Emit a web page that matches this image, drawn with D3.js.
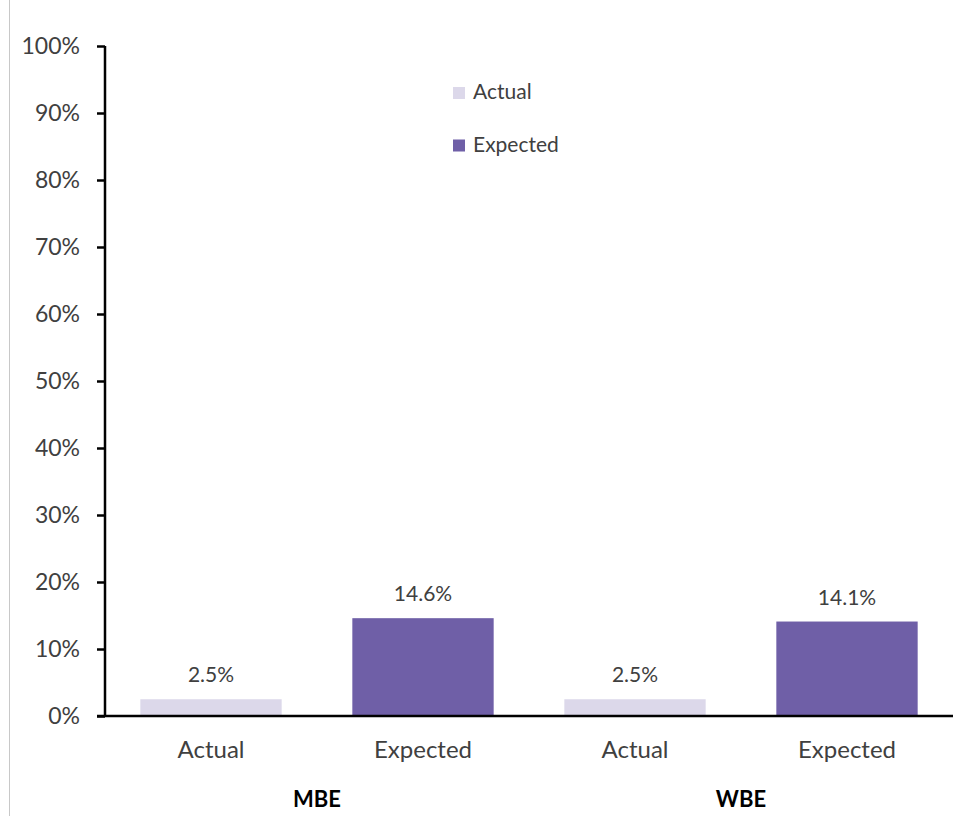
<!DOCTYPE html>
<html>
<head>
<meta charset="utf-8">
<script src="https://cdn.jsdelivr.net/npm/d3@7"></script>
<style>
  html, body { margin: 0; padding: 0; background: #fff; }
  svg { display: block; font-family: Lato, "Open Sans", sans-serif; }
</style>
</head>
<body>
<svg id="chart" width="955" height="816"></svg>
<script>
// ---- data ----
const groups = ["MBE", "WBE"];
const barLabels = ["Actual", "Expected", "Actual", "Expected"];
const barGroups = ["MBE", "MBE", "WBE", "WBE"];
const barValues = [2.5, 14.6, 2.5, 14.1];
const seriesNames = ["Actual", "Expected"];
const seriesColors = ["#DCD8EA", "#6F5FA7"];
const yTicks = [0, 10, 20, 30, 40, 50, 60, 70, 80, 90, 100];

const bars = barLabels.map((l, i) => ({ key: barGroups[i] + "-" + l, label: l, group: barGroups[i], value: barValues[i] }));

const svg = d3.select("#chart");
const plotL = 105, plotR = 953, plotT = 46, plotB = 716;

// outer border line on left
svg.append("line").attr("x1", 9.5).attr("x2", 9.5).attr("y1", 0).attr("y2", 816)
  .attr("stroke", "#c8c8c8").attr("stroke-width", 1);

const x = d3.scaleBand().domain(bars.map(d => d.key)).range([plotL, plotR]).paddingInner(1/3).paddingOuter(1/6);
const y = d3.scaleLinear().domain([0, 100]).range([plotB, plotT]);
const color = d3.scaleOrdinal().domain(seriesNames).range(seriesColors);

// bars
svg.append("g").selectAll("rect").data(bars).join("rect")
  .attr("x", d => x(d.key)).attr("width", x.bandwidth())
  .attr("y", d => y(d.value)).attr("height", d => y(0) - y(d.value))
  .attr("fill", d => color(d.label));

// value labels
svg.append("g").selectAll("text").data(bars).join("text")
  .attr("x", d => x(d.key) + x.bandwidth() / 2)
  .attr("y", d => y(d.value) - 17)
  .attr("text-anchor", "middle").attr("font-size", 21).attr("fill", "#404040")
  .text(d => d.value.toFixed(1) + "%");

// y axis
const yAxis = d3.axisLeft(y).tickValues(yTicks).tickFormat(d => d + "%").tickSize(8).tickPadding(17);
const gy = svg.append("g").attr("transform", `translate(${plotL},0)`).call(yAxis);
gy.select(".domain").attr("stroke", "#000").attr("stroke-width", 2.5).attr("d", `M0,${plotT}V${plotB}`);
gy.selectAll(".tick line").attr("stroke", "#000").attr("stroke-width", 2.5);
gy.selectAll(".tick text").attr("font-size", 23).attr("fill", "#404040").attr("font-family", "Lato, sans-serif");

// x axis line
svg.append("line").attr("x1", plotL - 8).attr("x2", plotR).attr("y1", plotB).attr("y2", plotB)
  .attr("stroke", "#000").attr("stroke-width", 2.5);

// category labels
svg.append("g").selectAll("text").data(bars).join("text")
  .attr("x", d => x(d.key) + x.bandwidth() / 2).attr("y", 758)
  .attr("text-anchor", "middle").attr("font-size", 24).attr("fill", "#404040")
  .text(d => d.label);

// group labels
svg.append("g").selectAll("text").data(groups).join("text")
  .attr("x", g => {
    const ks = bars.filter(b => b.group === g).map(b => b.key);
    return (x(ks[0]) + x(ks[ks.length - 1]) + x.bandwidth()) / 2;
  })
  .attr("y", 807).attr("text-anchor", "middle").attr("font-size", 22).attr("font-weight", "bold").attr("fill", "#000")
  .text(g => g);

// legend
const legend = svg.append("g").selectAll("g").data(seriesNames).join("g")
  .attr("transform", (d, i) => `translate(453,${87 + i * 52.5})`);
legend.append("rect").attr("width", 12).attr("height", 12).attr("fill", d => color(d));
legend.append("text").attr("x", 20).attr("y", 12).attr("font-size", 21).attr("fill", "#404040").text(d => d);
</script>
</body>
</html>
